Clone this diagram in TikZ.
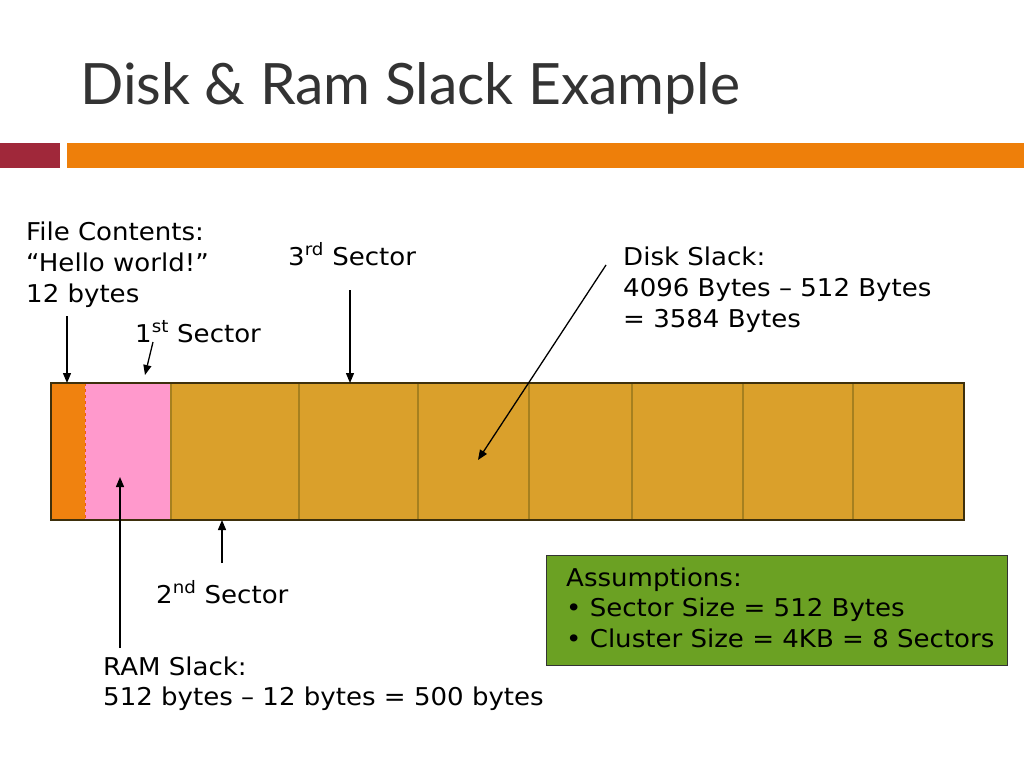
\documentclass[tikz,border=0pt]{standalone}
\usepackage{fontspec}
\setmainfont{DejaVu Sans}[FakeStretch=1.063]
\newfontfamily\titlefont{Lato}
\usetikzlibrary{arrows.meta}
\definecolor{barred}{HTML}{A0283A}
\definecolor{barorange}{HTML}{EE7F0A}
\definecolor{fileorange}{HTML}{F0820F}
\definecolor{ramp}{HTML}{FF99CC}
\definecolor{gold}{HTML}{DAA02B}
\definecolor{golddiv}{HTML}{A6801F}
\definecolor{baredge}{HTML}{3E300C}
\definecolor{assgreen}{HTML}{6BA123}
\tikzset{
  lbl/.style={anchor=base west, inner sep=0pt, font=\fontsize{24.5}{30}\selectfont},
  ptr/.style={draw=black, line width=1.3pt, -{Triangle[length=10pt,width=8pt]}},
}
\begin{document}
\begin{tikzpicture}[x=1pt,y=-1pt]
\useasboundingbox (0,0) rectangle (1024,768);
% title
\node[anchor=base west, inner sep=0pt, font=\titlefont\fontsize{57}{60}\selectfont, text=black!80] (title) at (80,104) {Disk \& Ram Slack Example};
% header bars
\fill[barred] (0,143) rectangle (60,168);
\fill[barorange] (67,143) rectangle (1024,168);
% disk bar
\fill[fileorange] (51,383) rectangle (85,520);
\fill[ramp] (85,383) rectangle (171,520);
\fill[gold] (171,383) rectangle (964,520);
\draw[draw=fileorange!70!red, dashed, line width=0.8pt] (85,383) -- (85,520);
\foreach \x in {171,299,418,529,632,743,853}
  \draw[golddiv, line width=1.2pt] (\x,383) -- (\x,520);
\draw[baredge, line width=1.2pt] (51,383) rectangle (964,520);
% coordinates
\coordinate (fcS) at (67,316);  \coordinate (fcE) at (67,383);
\coordinate (s1S) at (153,342); \coordinate (s1E) at (145,375);
\coordinate (s3S) at (350,290); \coordinate (s3E) at (350,383);
\coordinate (dsS) at (606,265); \coordinate (dsE) at (478,460);
\coordinate (rsS) at (120,648); \coordinate (rsE) at (120,477);
\coordinate (s2S) at (222,563); \coordinate (s2E) at (222,520);
% labels
\node[lbl] (fc1) at (26,240) {File Contents:};
\node[lbl] (fc2) at (26,271) {“Hello world!”};
\node[lbl] (fc3) at (26,302) {12 bytes};
\node[lbl] (sec3) at (288,265) {3\textsuperscript{rd} Sector};
\node[lbl] (sec1) at (135,342) {1\textsuperscript{st} Sector};
\node[lbl] (ds1) at (623,265) {Disk Slack:};
\node[lbl] (ds2) at (623,296) {4096 Bytes – 512 Bytes};
\node[lbl] (ds3) at (623,327) {= 3584 Bytes};
\node[lbl] (sec2) at (156,603) {2\textsuperscript{nd} Sector};
\node[lbl] (rs1) at (103,675) {RAM Slack:};
\node[lbl] (rs2) at (103,705) {512 bytes – 12 bytes = 500 bytes};
% assumptions box
\node[draw=black!80, fill=assgreen, line width=1pt, minimum width=461pt, minimum height=110pt, anchor=north west] (box) at (546,555) {};
\node[lbl] (as1) at (566,586) {Assumptions:};
\node[lbl] (as2) at (566,616) {• Sector Size = 512 Bytes};
\node[lbl] (as3) at (566,647) {• Cluster Size = 4KB = 8 Sectors};
% arrows
\draw[ptr] (fcS) -- (fcE);
\draw[ptr] (s1S) -- (s1E);
\draw[ptr] (s3S) -- (s3E);
\draw[ptr] (dsS) -- (dsE);
\draw[ptr] (rsS) -- (rsE);
\draw[ptr] (s2S) -- (s2E);
\end{tikzpicture}
\end{document}
